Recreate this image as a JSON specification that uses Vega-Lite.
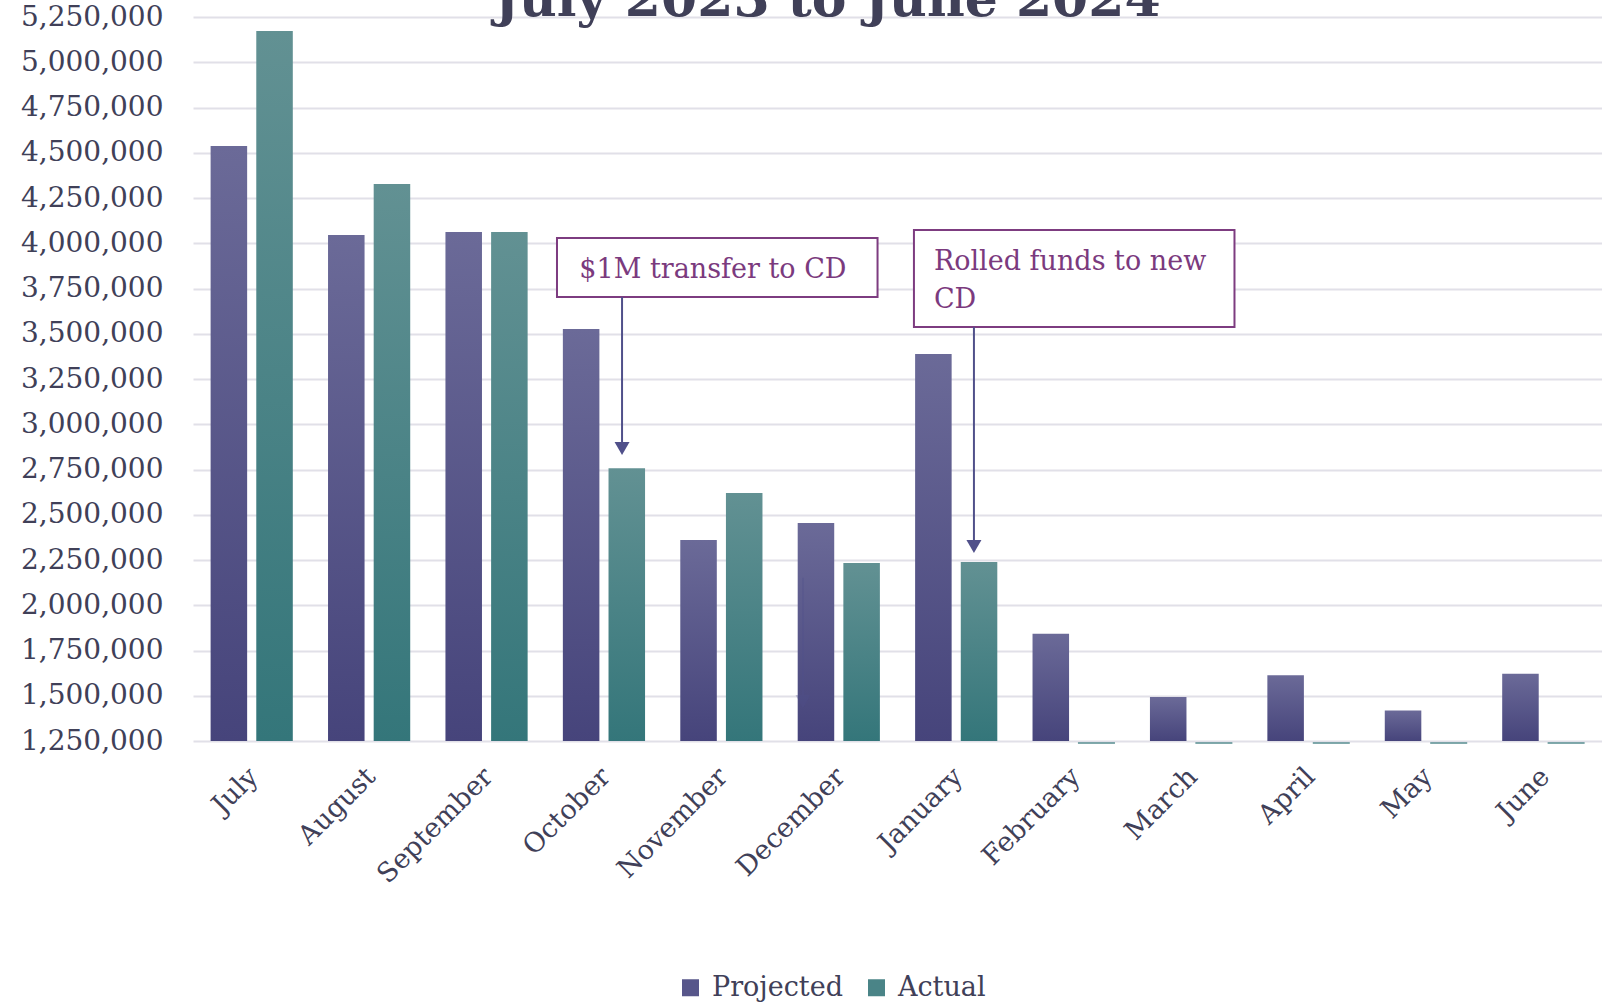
{
  "$schema": "https://vega.github.io/schema/vega-lite/v6.json",
  "width": 1409,
  "height": 724,
  "autosize": {"type": "none"},
  "padding": {"left": 193, "top": 17, "right": 0, "bottom": 265},
  "background": "white",
  "title": {
    "text": "July 2023 to June 2024",
    "font": "DejaVu Serif",
    "fontSize": 52,
    "fontWeight": "bold",
    "color": "#404058",
    "anchor": "middle",
    "frame": "group",
    "dx": -70,
    "baseline": "bottom",
    "offset": -76
  },
  "datasets": {
    "balances": [
      {"month": "July", "series": "Projected", "value": 4537000},
      {"month": "July", "series": "Actual", "value": 5173000},
      {"month": "August", "series": "Projected", "value": 4046000},
      {"month": "August", "series": "Actual", "value": 4327000},
      {"month": "September", "series": "Projected", "value": 4062000},
      {"month": "September", "series": "Actual", "value": 4062000},
      {"month": "October", "series": "Projected", "value": 3526000},
      {"month": "October", "series": "Actual", "value": 2757000},
      {"month": "November", "series": "Projected", "value": 2361000},
      {"month": "November", "series": "Actual", "value": 2620000},
      {"month": "December", "series": "Projected", "value": 2455000},
      {"month": "December", "series": "Actual", "value": 2234000},
      {"month": "January", "series": "Projected", "value": 3388000},
      {"month": "January", "series": "Actual", "value": 2239000},
      {"month": "February", "series": "Projected", "value": 1842000},
      {"month": "February", "series": "Actual", "value": 0},
      {"month": "March", "series": "Projected", "value": 1493000},
      {"month": "March", "series": "Actual", "value": 0},
      {"month": "April", "series": "Projected", "value": 1613000},
      {"month": "April", "series": "Actual", "value": 0},
      {"month": "May", "series": "Projected", "value": 1418000},
      {"month": "May", "series": "Actual", "value": 0},
      {"month": "June", "series": "Projected", "value": 1622000},
      {"month": "June", "series": "Actual", "value": 0}
    ],
    "boxes": [
      {"u1": 3.10, "u2": 5.83, "top": 4029000, "bottom": 3703000},
      {"u1": 6.14, "u2": 8.87, "top": 4073000, "bottom": 3537000}
    ],
    "notes": [
      {"u": 3.29, "base": 3808000, "text": "$1M transfer to CD"},
      {"u": 6.31, "base": 3852000, "text": "Rolled funds to new"},
      {"u": 6.31, "base": 3642000, "text": "CD"}
    ],
    "arrows": [
      {"kind": "callout", "u": 3.654, "from": 3703000, "to": 2902000, "head": 2866000},
      {"kind": "callout", "u": 6.651, "from": 3537000, "to": 2360000, "head": 2325000},
      {"kind": "ghost", "u": 5.195, "from": 2151000, "to": 1504000, "head": 1468000}
    ]
  },
  "layer": [
    {
      "data": {"name": "balances"},
      "mark": {"type": "bar"},
      "encoding": {
        "x": {
          "field": "month",
          "type": "nominal",
          "sort": ["July", "August", "September", "October", "November", "December", "January", "February", "March", "April", "May", "June"],
          "scale": {"domain": ["July", "August", "September", "October", "November", "December", "January", "February", "March", "April", "May", "June"], "paddingInner": 0.3, "paddingOuter": 0.15},
          "axis": {
            "title": null,
            "labelAngle": -45,
            "labelFontSize": 27,
            "labelFont": "DejaVu Serif",
            "labelColor": "#404058",
            "ticks": false,
            "domain": false,
            "grid": false,
            "labelPadding": 22,
            "labelOffset": -7
          }
        },
        "xOffset": {
          "field": "series",
          "type": "nominal",
          "sort": ["Projected", "Actual"],
          "scale": {"domain": ["Projected", "Actual"], "paddingInner": 0.2, "paddingOuter": 0}
        },
        "y": {
          "field": "value",
          "type": "quantitative",
          "scale": {"domain": [1250000, 5250000], "nice": false, "zero": false, "clamp": true},
          "axis": {
            "title": null,
            "values": [1250000, 1500000, 1750000, 2000000, 2250000, 2500000, 2750000, 3000000, 3250000, 3500000, 3750000, 4000000, 4250000, 4500000, 4750000, 5000000, 5250000],
            "labelExpr": "format(datum.value, ',')",
            "grid": true,
            "gridColor": "#e1e0e8",
            "gridWidth": 2,
            "domain": false,
            "ticks": false,
            "tickSize": 0,
            "labelPadding": 30,
            "labelFontSize": 28,
            "labelFont": "DejaVu Serif",
            "labelColor": "#404058"
          }
        },
        "color": {
          "condition": [
            {"test": "datum.series === 'Projected'", "value": {"gradient": "linear", "x1": 0, "y1": 0, "x2": 0, "y2": 1, "stops": [{"offset": 0, "color": "#6b6a98"}, {"offset": 1, "color": "#46447b"}]}},
            {"test": "datum.series === 'Actual'", "value": {"gradient": "linear", "x1": 0, "y1": 0, "x2": 0, "y2": 1, "stops": [{"offset": 0, "color": "#629193"}, {"offset": 1, "color": "#34767a"}]}}
          ],
          "field": "series",
          "type": "nominal",
          "sort": ["Projected", "Actual"],
          "scale": {"domain": ["Projected", "Actual"], "range": ["#57568a", "#4a8487"]},
          "legend": {
            "title": null,
            "orient": "none",
            "legendX": 484,
            "legendY": 957,
            "direction": "horizontal",
            "symbolType": "square",
            "symbolSize": 289,
            "symbolStrokeWidth": 0,
            "symbolOpacity": 1,
            "labelFontSize": 27,
            "labelFont": "DejaVu Serif",
            "labelColor": "#404058",
            "labelOffset": 8,
            "columnPadding": 20
          }
        }
      }
    },
    {
      "data": {"name": "balances"},
      "transform": [{"filter": "datum.value === 0"}],
      "mark": {"type": "tick", "orient": "horizontal", "thickness": 2, "size": 37, "color": "#4a8487", "yOffset": 2},
      "encoding": {
        "x": {
          "field": "month",
          "type": "nominal",
          "sort": ["July", "August", "September", "October", "November", "December", "January", "February", "March", "April", "May", "June"],
          "scale": {"domain": ["July", "August", "September", "October", "November", "December", "January", "February", "March", "April", "May", "June"], "paddingInner": 0.3, "paddingOuter": 0.15},
          "axis": null
        },
        "xOffset": {
          "field": "series",
          "type": "nominal",
          "sort": ["Projected", "Actual"],
          "scale": {"domain": ["Projected", "Actual"], "paddingInner": 0.2, "paddingOuter": 0}
        },
        "y": {"field": "value", "type": "quantitative"}
      }
    },
    {
      "data": {"name": "boxes"},
      "mark": {"type": "rect", "fill": "white", "stroke": "#7d3c80", "strokeWidth": 2},
      "encoding": {
        "x": {"field": "u1", "type": "quantitative", "scale": {"domain": [0, 12], "nice": false, "zero": false}, "axis": null},
        "x2": {"field": "u2"},
        "y": {"field": "top", "type": "quantitative"},
        "y2": {"field": "bottom"}
      }
    },
    {
      "data": {"name": "notes"},
      "mark": {"type": "text", "align": "left", "baseline": "alphabetic", "font": "DejaVu Serif", "fontSize": 27, "color": "#7b3a7e"},
      "encoding": {
        "x": {"field": "u", "type": "quantitative", "scale": {"domain": [0, 12], "nice": false, "zero": false}, "axis": null},
        "y": {"field": "base", "type": "quantitative"},
        "text": {"field": "text"}
      }
    },
    {
      "data": {"name": "arrows"},
      "mark": {"type": "rule", "strokeWidth": 2, "color": "#50508a"},
      "encoding": {
        "x": {"field": "u", "type": "quantitative", "scale": {"domain": [0, 12], "nice": false, "zero": false}, "axis": null},
        "y": {"field": "from", "type": "quantitative"},
        "y2": {"field": "to"},
        "opacity": {"field": "kind", "type": "nominal", "scale": {"domain": ["callout", "ghost"], "range": [1, 0.3]}, "legend": null}
      }
    },
    {
      "data": {"name": "arrows"},
      "mark": {"type": "point", "shape": "triangle-down", "filled": true, "size": 225, "color": "#50508a", "strokeWidth": 0},
      "encoding": {
        "x": {"field": "u", "type": "quantitative", "scale": {"domain": [0, 12], "nice": false, "zero": false}, "axis": null},
        "y": {"field": "head", "type": "quantitative"},
        "opacity": {"field": "kind", "type": "nominal", "scale": {"domain": ["callout", "ghost"], "range": [1, 0.3]}, "legend": null}
      }
    }
  ],
  "resolve": {"scale": {"x": "independent"}},
  "config": {
    "view": {"stroke": null},
    "font": "DejaVu Serif"
  }
}
